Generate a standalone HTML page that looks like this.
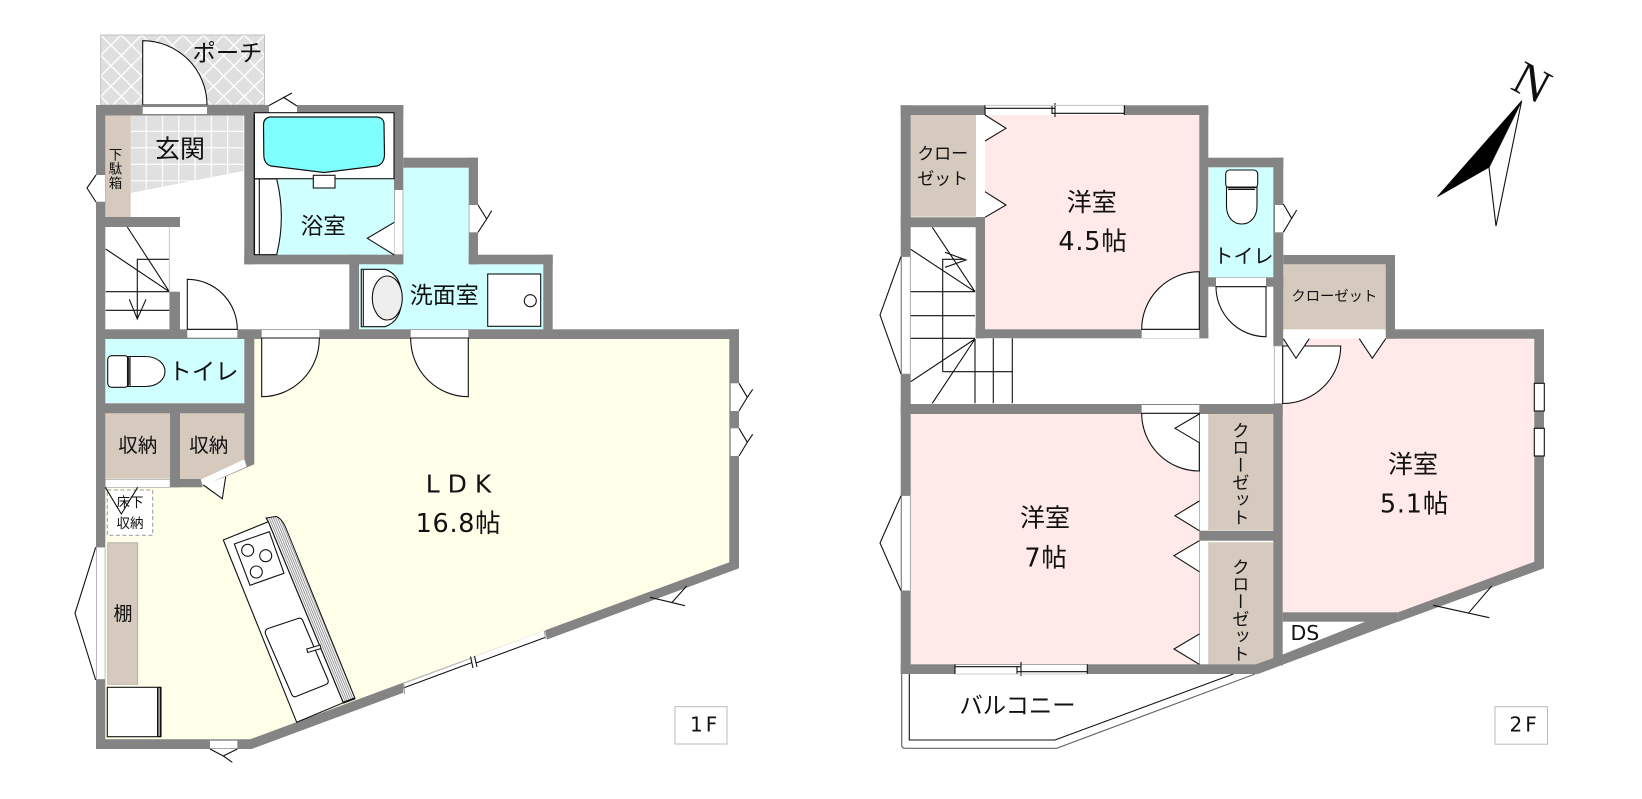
<!DOCTYPE html>
<html lang="ja"><head><meta charset="utf-8"><title>間取り図</title>
<style>html,body{margin:0;padding:0;background:#fff;width:1642px;height:799px;overflow:hidden}svg{display:block}
text{font-family:"Liberation Sans","Noto Sans CJK JP",sans-serif;fill:#111}
.d{font-family:"DejaVu Sans","Noto Sans CJK JP",sans-serif}
.w{fill:#848484}.l{fill:none;stroke:#111;stroke-width:1.1}.f{fill:#fff;stroke:#111;stroke-width:1.1}
.g{fill:#fff}.b{fill:#d5cabd}.c{fill:#d0ffff}.p{fill:#ffe9e9}</style></head><body>
<svg width="1642" height="799" viewBox="0 0 1642 799" xmlns="http://www.w3.org/2000/svg">
<defs>
<pattern id="lat" width="20.5" height="20.5" patternUnits="userSpaceOnUse" x="100.7" y="35"><rect width="20.5" height="20.5" fill="#dfdfdf"/><path d="M0 0L20.5 20.5M20.5 0L0 20.5" stroke="#fff" stroke-width="1.4"/></pattern>
<pattern id="tile" width="16.3" height="16.5" patternUnits="userSpaceOnUse" x="130.7" y="115.5"><rect width="16.3" height="16.5" fill="#e0e0e0"/><path d="M15.5 0V16.5M0 15.8H16.3" stroke="#fff" stroke-width="1.2"/></pattern>
<pattern id="ldk" width="15" height="10" patternUnits="userSpaceOnUse" x="105"><rect width="15" height="10" fill="#ffffe9"/><rect x="7" width="2" height="10" fill="#ffffee"/></pattern>
<pattern id="hatch" width="2" height="2" patternUnits="userSpaceOnUse" patternTransform="rotate(-22.5)"><rect width="2" height="2" fill="#fff"/><rect width="1" height="2" fill="#999"/></pattern>
</defs>

<!-- ========== 1F ========== -->
<rect x="100.7" y="35" width="163.8" height="70" fill="url(#lat)" stroke="#b5b5b5" stroke-width=".8"/>
<path d="M142.7 105V40.7A64.3 64.3 0 0 1 207 105Z" class="f"/>
<text x="227.5" y="61" font-size="23.3" text-anchor="middle">ポーチ</text>

<!-- floors -->
<polygon points="105,339 729.5,339 729.5,562 250,739.5 105,739.5" fill="url(#ldk)"/>
<polygon points="130.7,115.5 244.3,115.5 244.3,170.7 130.7,193" fill="url(#tile)"/>
<rect x="105.3" y="115.5" width="25.4" height="101.5" class="b"/>
<rect x="254.3" y="115" width="140" height="140" class="c"/>
<polygon points="403.3,167.7 468.7,167.7 468.7,264.3 543.3,264.3 543.3,329.3 359,329.3 359,264.3 403.3,264.3" class="c"/>
<rect x="105.3" y="339" width="139" height="64.3" class="c"/>
<rect x="105.3" y="413.3" width="64.7" height="65.4" class="b"/>
<polygon points="180,413.3 244.3,413.3 244.3,459.3 200,479.3 180,479.3" class="b"/>

<!-- walls -->
<g class="w">
<rect x="96" y="105" width="307.3" height="10.5"/>
<rect x="96" y="105" width="9.3" height="644"/>
<rect x="96" y="217" width="84" height="10"/>
<rect x="169.3" y="291.7" width="10.7" height="38"/>
<rect x="96" y="329.3" width="643" height="9.7"/>
<rect x="244.3" y="339" width="10" height="125"/>
<rect x="96" y="403.3" width="158" height="10"/>
<rect x="170" y="413" width="10" height="74.3"/>
<rect x="170" y="479" width="32" height="8.3"/>
<polygon points="244.3,459.3 254.3,464.3 201,487.3 200,479.3"/>
<rect x="244.3" y="105" width="10" height="159.3"/>
<rect x="244.3" y="254.7" width="159" height="9.6"/>
<rect x="394" y="105" width="9.3" height="159.3"/>
<rect x="403.3" y="157.7" width="74.7" height="10"/>
<rect x="468.7" y="157.7" width="9.3" height="106.6"/>
<rect x="468.7" y="254.7" width="84" height="9.6"/>
<rect x="543.3" y="254.7" width="9.4" height="80"/>
<rect x="349.3" y="254.7" width="9.7" height="80"/>
<rect x="729.3" y="329.3" width="9.7" height="239"/>
<polygon points="96,739.3 250,739.3 729.3,562.3 739,568.3 251.7,749 96,749"/>
</g>

<!-- windows 1F -->
<rect x="142.7" y="107" width="64.3" height="7" class="g"/>
<rect x="269" y="105" width="28" height="10" class="g"/>
<path d="M269 105.5L292 93M283 97L297 106" class="l"/>
<rect x="96" y="175" width="9" height="26.7" class="g"/>
<path d="M96 175L87 188L96 202" class="l"/>
<rect x="469.3" y="205" width="8.7" height="27.3" class="g"/>
<path d="M478 205L486.7 219L478 232.3M486.7 219L491.7 210.7" class="l"/>
<rect x="730.7" y="383.3" width="8.3" height="27.7" class="g"/>
<path d="M739 383.3L747.3 397.3L739 411M747.3 397.3L752.7 389.3" class="l"/>
<rect x="730.7" y="428.3" width="8.3" height="27.7" class="g"/>
<path d="M739 428.3L747.3 442.3L739 456M747.3 442.3L752.7 434.3" class="l"/>
<path d="M650 597.3L685 605.7M671.7 602.7L686.7 586" class="l"/>
<rect x="96.5" y="547.3" width="8.5" height="132" class="g" stroke="#aaa" stroke-width=".6"/>
<path d="M95.7 547.3L75 613.3L95.7 680" class="l"/>
<rect x="210" y="740.7" width="27.3" height="7.6" class="g"/>
<path d="M210 749L223.3 756L237.3 749M223.3 756L232.3 762.3" class="l"/>
<polygon points="403.3,683 545,630.4 547,640 403.3,695" class="g"/>
<path d="M403.3 688L472 662.5" class="l"/><path d="M476 663L545 637.5" class="l"/>
<path d="M403.3 683.5L472 658" stroke="#bbb" stroke-width="1" fill="none"/>
<path d="M470.5 656.5L473 668M474.5 656L477 667" class="l" stroke-width=".9"/>
<path d="M404 684L404.5 694M544.5 631L545.5 639" stroke="#999" stroke-width="1"/>

<!-- geta label -->
<g font-size="13.5" text-anchor="middle"><text x="115.5" y="159.5">下</text><text x="115.5" y="173.7">駄</text><text x="115.5" y="188">箱</text></g>
<text x="180" y="157.5" font-size="25" text-anchor="middle">玄関</text>

<!-- stairs 1F -->
<rect x="105.7" y="227" width="63.6" height="102" class="g"/>
<path d="M127.3 227L169.3 291.7L105.7 249M137.3 319V259.3H169.3M105.7 291.7H169.3M105.7 310.3H169.3M129.3 299.3L137.3 319L146 299.3" class="l"/>
<path d="M169.3 227V291.7" stroke="#bbb" fill="none" stroke-width=".8"/>

<!-- bath -->
<rect x="254.3" y="112.7" width="139.7" height="66" class="f" stroke-width="1.6"/>
<path d="M270 117H377Q384 118 384 124L384.5 155Q384 164 377 166L324 172.5L271 166Q264 164 263.8 155L263.5 124Q264 118 270 117Z" fill="#80ffff" stroke="#111" stroke-width="1.2"/>
<rect x="313.3" y="175.3" width="21.7" height="12.7" class="f"/>
<path d="M276.7 179L254.5 179V254.7H276.7Q286 217 276.7 179Z" class="f"/>
<path d="M259.3 179V254.7" class="l"/>
<path d="M254.3 115V254.7" stroke="#111" stroke-width="1.3"/>
<rect x="394.7" y="190" width="8" height="64.3" class="g"/>
<path d="M394.3 222.3L367.3 238.3L394.3 255" class="f"/>
<text x="323.3" y="234" font-size="22.5" text-anchor="middle">浴室</text>

<!-- wash -->
<path d="M361.3 269.3H385Q401.7 275 401.7 298Q401.7 321 385 326.7H361.3Z" class="f"/>
<path d="M363.3 270V326" class="l"/>
<ellipse cx="387.3" cy="298" rx="15" ry="22" fill="#eee" stroke="#111" stroke-width="1.1"/>
<text x="444.3" y="303" font-size="23" text-anchor="middle">洗面室</text>
<rect x="487.7" y="274" width="53" height="52.3" class="f" stroke-width="1.4"/>
<circle cx="530.3" cy="300.7" r="6" class="f"/>

<!-- doors 1F -->
<rect x="187.3" y="330" width="50" height="7.7" class="g"/>
<path d="M187.3 329.3V279.3A50 50 0 0 1 237.3 329.3Z" class="f"/>
<rect x="261.7" y="330" width="57.6" height="8" class="g"/>
<path d="M261.7 338V396.7A57.6 58 0 0 0 319.3 338Z" class="f"/>
<rect x="410.7" y="330" width="57.6" height="8" class="g"/>
<path d="M468.3 338V396.7A57.6 58 0 0 1 410.7 338Z" class="f"/>

<!-- toilet 1F -->
<path d="M128 356.5H145C158 356.5 165 364 165 371.5C165 379 158 386.5 145 386.5H128Z" class="f"/>
<rect x="107.7" y="355.7" width="21" height="31.6" rx="4" class="f" stroke-width="1.6"/>
<path d="M127.5 357V386M130 357V386" class="l"/>
<text x="203.5" y="379.5" font-size="23.3" text-anchor="middle">トイレ</text>

<text x="137.8" y="452" font-size="19.5" text-anchor="middle">収納</text>
<text x="208.8" y="452" font-size="19.5" text-anchor="middle">収納</text>
<rect x="105.3" y="479.3" width="64.7" height="8" class="g" stroke="#999" stroke-width=".6"/>
<polygon points="200.7,479.3 244.3,459.3 246.7,466.7 202.7,486" class="g"/>
<rect x="107.3" y="490" width="45.4" height="45.3" fill="#fff" stroke="#999" stroke-width="1" stroke-dasharray="4 2.5"/>
<path d="M105.3 487.3L121.3 514L137.7 487.3" class="l"/>
<path d="M203.3 485L222.3 498.7L225.7 476.7" class="f"/>
<text x="130" y="507" font-size="13.5" text-anchor="middle">床下</text>
<text x="130" y="528" font-size="13.5" text-anchor="middle">収納</text>
<rect x="107.7" y="542.7" width="30" height="141.6" class="b" stroke="#aaa" stroke-width=".8"/>
<text x="123" y="620" font-size="19" text-anchor="middle">棚</text>
<rect x="107.3" y="687.3" width="53.7" height="49.4" class="f" stroke-width="1.5"/>
<rect x="157" y="687.3" width="4" height="49.4" fill="#111"/><rect x="158.6" y="688" width="1" height="48" fill="#fff"/>

<!-- kitchen -->
<polygon points="223.3,540 268.3,521.7 343.3,702.7 296.7,722.3" class="f"/>
<path d="M268.3 521.7L266 518L276 516.5Q282 518 286.7 530L355 698.3L343.3 702.7Z" fill="url(#hatch)" stroke="#111" stroke-width="1"/>
<path d="M343.3 702.7L355 698.3" stroke="#111" stroke-width="2"/>
<polygon points="234.3,544 269.3,531.7 284,573.3 250,585.3" class="f"/>
<circle cx="247.7" cy="550.3" r="6" class="f"/><circle cx="265.7" cy="555.7" r="6" class="f"/><circle cx="256.3" cy="572" r="6" class="f"/>
<path d="M268 628.5L298 618.5Q301 617.3 302.5 620L328 680Q329 683 326 684.5L296 696.5Q293.5 697.5 292 695L265.5 634Q264.5 630 268 628.5Z" class="f"/>
<polygon points="306.7,649 320,645 321,648.5 307.7,652.5" class="f"/>

<text class="d" x="458.5" y="492.7" font-size="25" text-anchor="middle">L D K</text>
<text class="d" x="458.5" y="532" font-size="25.5" letter-spacing=".7" text-anchor="middle">16.8帖</text>
<rect x="675" y="706.7" width="52" height="37.3" fill="#fff" stroke="#bbb" stroke-width="1"/>
<text class="d" x="690" y="731.7" font-size="20" letter-spacing="3">1F</text>

<!-- ========== 2F ========== -->
<!-- balcony -->
<path d="M901.7 674V745Q901.7 748.3 905 748.3H1056.7L1255 674" fill="none" stroke="#666" stroke-width="1.2"/>
<path d="M909.3 674V740H1055L1233.3 674" class="l"/>
<text x="1017.5" y="713.5" font-size="23.3" text-anchor="middle">バルコニー</text>

<!-- floors -->
<rect x="985" y="115" width="214.3" height="214.3" class="p"/>
<rect x="910.7" y="115" width="65.3" height="101.7" class="b"/>
<rect x="1209" y="167.3" width="64.3" height="110" class="c"/>
<rect x="1283.3" y="264.3" width="102.4" height="65" class="b"/>
<polygon points="1282.7,338 1534.3,338 1534.3,561.7 1398.3,612.3 1282.7,612.3" class="p"/>
<rect x="910.7" y="414" width="288.6" height="250.3" class="p"/>
<rect x="1208.3" y="414" width="65" height="116" class="b"/>
<polygon points="1208.3,542.3 1273.3,542.3 1273.3,658.3 1256.7,664.3 1208.3,664.3" class="b"/>

<g class="w">
<rect x="900.7" y="105.3" width="307.6" height="9.7"/>
<rect x="900.7" y="105.3" width="10" height="568.7"/>
<rect x="900.7" y="217.3" width="84.3" height="10"/>
<rect x="975.7" y="217" width="9.3" height="121.3"/>
<rect x="975.7" y="329.3" width="232.6" height="9"/>
<rect x="1199.3" y="105.3" width="9" height="233"/>
<rect x="1208" y="157.7" width="75.3" height="9.6"/>
<rect x="1273.3" y="157.7" width="10" height="188.3"/>
<rect x="1199.3" y="277.3" width="84" height="9.4"/>
<rect x="1283.3" y="255" width="111.7" height="9.3"/>
<rect x="1385.7" y="255" width="9.3" height="83.7"/>
<rect x="1385.7" y="329.3" width="158.3" height="9.4"/>
<rect x="1534.3" y="329.3" width="9.7" height="239"/>
<polygon points="1534.3,561.7 1544,568.3 1398.3,621.7 1398.3,612.3"/>
<rect x="1282.7" y="612.3" width="115.6" height="9.4"/>
<rect x="1273.3" y="403.5" width="9.4" height="262"/>
<rect x="900.7" y="404" width="382" height="10"/>
<rect x="1199.3" y="414" width="9" height="260"/>
<rect x="1199.3" y="530.7" width="82.4" height="10"/>
<rect x="900.7" y="664.3" width="357.3" height="9.7"/>
<polygon points="1367,621 1401,620.5 1258,674 1256,664.3 1273.3,658 1282.7,654.5"/>
</g>

<!-- window top -->
<rect x="985" y="105.3" width="139.3" height="9.7" class="g"/>
<path d="M985 108.3H1055M1052 113.3H1124.3M985 105V115M1055 103V117M1052 106V114M1124.3 105V115" class="l"/>
<path d="M985 105.3H1124" stroke="#bbb" stroke-width=".8" fill="none"/>
<rect x="976.7" y="115" width="8.3" height="102" class="g"/>
<path d="M985 115L1006 128.3L985 141" class="f"/>
<path d="M985 191.7L1006 205L985 217.3" class="f"/>
<text x="942.7" y="159.5" font-size="17" text-anchor="middle">クロー</text>
<text x="942.7" y="184.5" font-size="17" text-anchor="middle">ゼット</text>

<!-- stairs 2F -->
<rect x="911" y="227.3" width="64" height="176.5" class="g"/>
<rect x="985" y="338.3" width="27.5" height="65.5" class="g"/>
<path d="M932.3 227.3L975 291.7L910.7 249.3M910.7 291.7H975M910.7 315.7H975M910.7 338.3H975M942.7 371.7V259.3H965M945 252.3L966 260L945 267.3M975 339L910.7 381.7M975 339L932.3 403.3M942.7 371.7H1012.3M975 339V403.3M993.3 338.3V403.3M1012.3 338.3V403.3" class="l"/>
<rect x="901.7" y="256.7" width="8.5" height="117.3" class="g" stroke="#999" stroke-width=".6"/>
<path d="M901 256.7L880 315L901 374" class="l"/>
<rect x="901.7" y="495.7" width="8.5" height="95" class="g" stroke="#999" stroke-width=".6"/>
<path d="M901 495.7L880 543L901 590.7" class="l"/>

<text x="1091.7" y="211" font-size="25" text-anchor="middle">洋室</text>
<text class="d" x="1093" y="250" font-size="25.5" letter-spacing=".8" text-anchor="middle">4.5帖</text>

<!-- room door -->
<rect x="1141.7" y="330" width="57.6" height="8" class="g"/>
<path d="M1199.3 329.3V271.7A57.6 57.6 0 0 0 1141.7 329.3Z" class="f"/>

<!-- toilet 2F -->
<rect x="1216" y="277.8" width="50" height="8.6" class="g"/>
<path d="M1266 286.7V336.7A50 50 0 0 1 1216 286.7Z" class="f"/>
<rect x="1275" y="205" width="8.3" height="27.3" class="g"/>
<path d="M1283.3 204L1291.7 218.3L1283.3 232.3M1291.7 218.3L1296.7 210" class="l"/>
<path d="M1226.5 186V206C1226.5 217 1233 224 1241.7 224C1250.4 224 1257 217 1257 206V186Z" class="f"/>
<rect x="1225.7" y="170" width="32" height="18" rx="4" class="f" stroke-width="1.6"/>
<path d="M1227 187H1256M1228 189.5H1255" class="l"/>
<text x="1243.5" y="263" font-size="20" text-anchor="middle">トイレ</text>

<!-- closet -->
<rect x="1283.3" y="330" width="102.4" height="8.5" class="g"/>
<text x="1334.3" y="301" font-size="14.3" text-anchor="middle">クローゼット</text>
<!-- door 5.1 -->
<rect x="1274.3" y="346" width="8.4" height="57.5" class="g" stroke="#aaa" stroke-width=".8"/>
<path d="M1282.7 346H1340.7A58 57.5 0 0 1 1282.7 403.5Z" class="f"/>
<path d="M1283.3 338.7L1296 358.3L1309.3 338.7" class="f"/>
<path d="M1359.3 338.7L1372.3 358.3L1385.7 338.7" class="f"/>

<rect x="1534.3" y="383.3" width="10" height="27.7" class="f"/>
<rect x="1534.3" y="428.3" width="10" height="27.7" class="f"/>
<path d="M1433.3 605.3L1489.3 617.7M1468.3 613.3L1491.7 586" class="l"/>
<text x="1413" y="473" font-size="25" text-anchor="middle">洋室</text>
<text class="d" x="1414.5" y="512.3" font-size="25.5" letter-spacing=".8" text-anchor="middle">5.1帖</text>

<text class="d" x="1290.5" y="640" font-size="20.5">DS</text>

<!-- room 7 -->
<rect x="1141.7" y="405" width="57.6" height="8.3" class="g"/>
<path d="M1199.3 413.3V471A57.6 57.6 0 0 1 1141.7 413.3Z" class="f"/>
<rect x="1200" y="414" width="8.3" height="116.7" class="g"/>
<rect x="1200" y="540.7" width="8.3" height="123.6" class="g"/>
<path d="M1199.3 414L1175 428.3L1199.3 442.7" class="f"/>
<path d="M1199.3 501L1175 515.7L1199.3 530.7" class="f"/>
<path d="M1199.3 540.7L1174 555.7L1199.3 571.7" class="f"/>
<path d="M1199.3 634L1174 649L1199.3 664.3" class="f"/>
<text x="1045" y="526.7" font-size="25" text-anchor="middle">洋室</text>
<text class="d" x="1046" y="566.7" font-size="25.5" letter-spacing=".8" text-anchor="middle">7帖</text>
<text x="1240.3" y="421.5" font-size="17.4" style="writing-mode:vertical-rl">クローゼット</text>
<text x="1240.3" y="558" font-size="17.4" style="writing-mode:vertical-rl">クローゼット</text>

<!-- window bottom -->
<rect x="955" y="665" width="132.3" height="9" class="g"/>
<path d="M955 666.7H1021M1017 671.7H1087.3M955 664.3V674M1021 662V676M1017 666V674M1087.3 664.3V674" class="l"/>
<path d="M955 674H1087" stroke="#bbb" stroke-width=".8" fill="none"/>

<!-- north -->
<polygon points="1521.7,100.7 1437.3,196.7 1489,167.3" fill="#000" stroke="#000" stroke-width=".6"/>
<polygon points="1521.7,100.7 1489,167.3 1496,226" fill="#fff" stroke="#111" stroke-width="1.1"/>
<text x="1531" y="98" font-size="48" text-anchor="middle" transform="rotate(28 1531 84)" style="font-family:'Liberation Serif',serif">N</text>

<rect x="1495" y="706.7" width="52.5" height="37.5" fill="#fff" stroke="#bbb" stroke-width="1"/>
<text class="d" x="1509.5" y="731.7" font-size="20" letter-spacing="3">2F</text>
</svg></body></html>
